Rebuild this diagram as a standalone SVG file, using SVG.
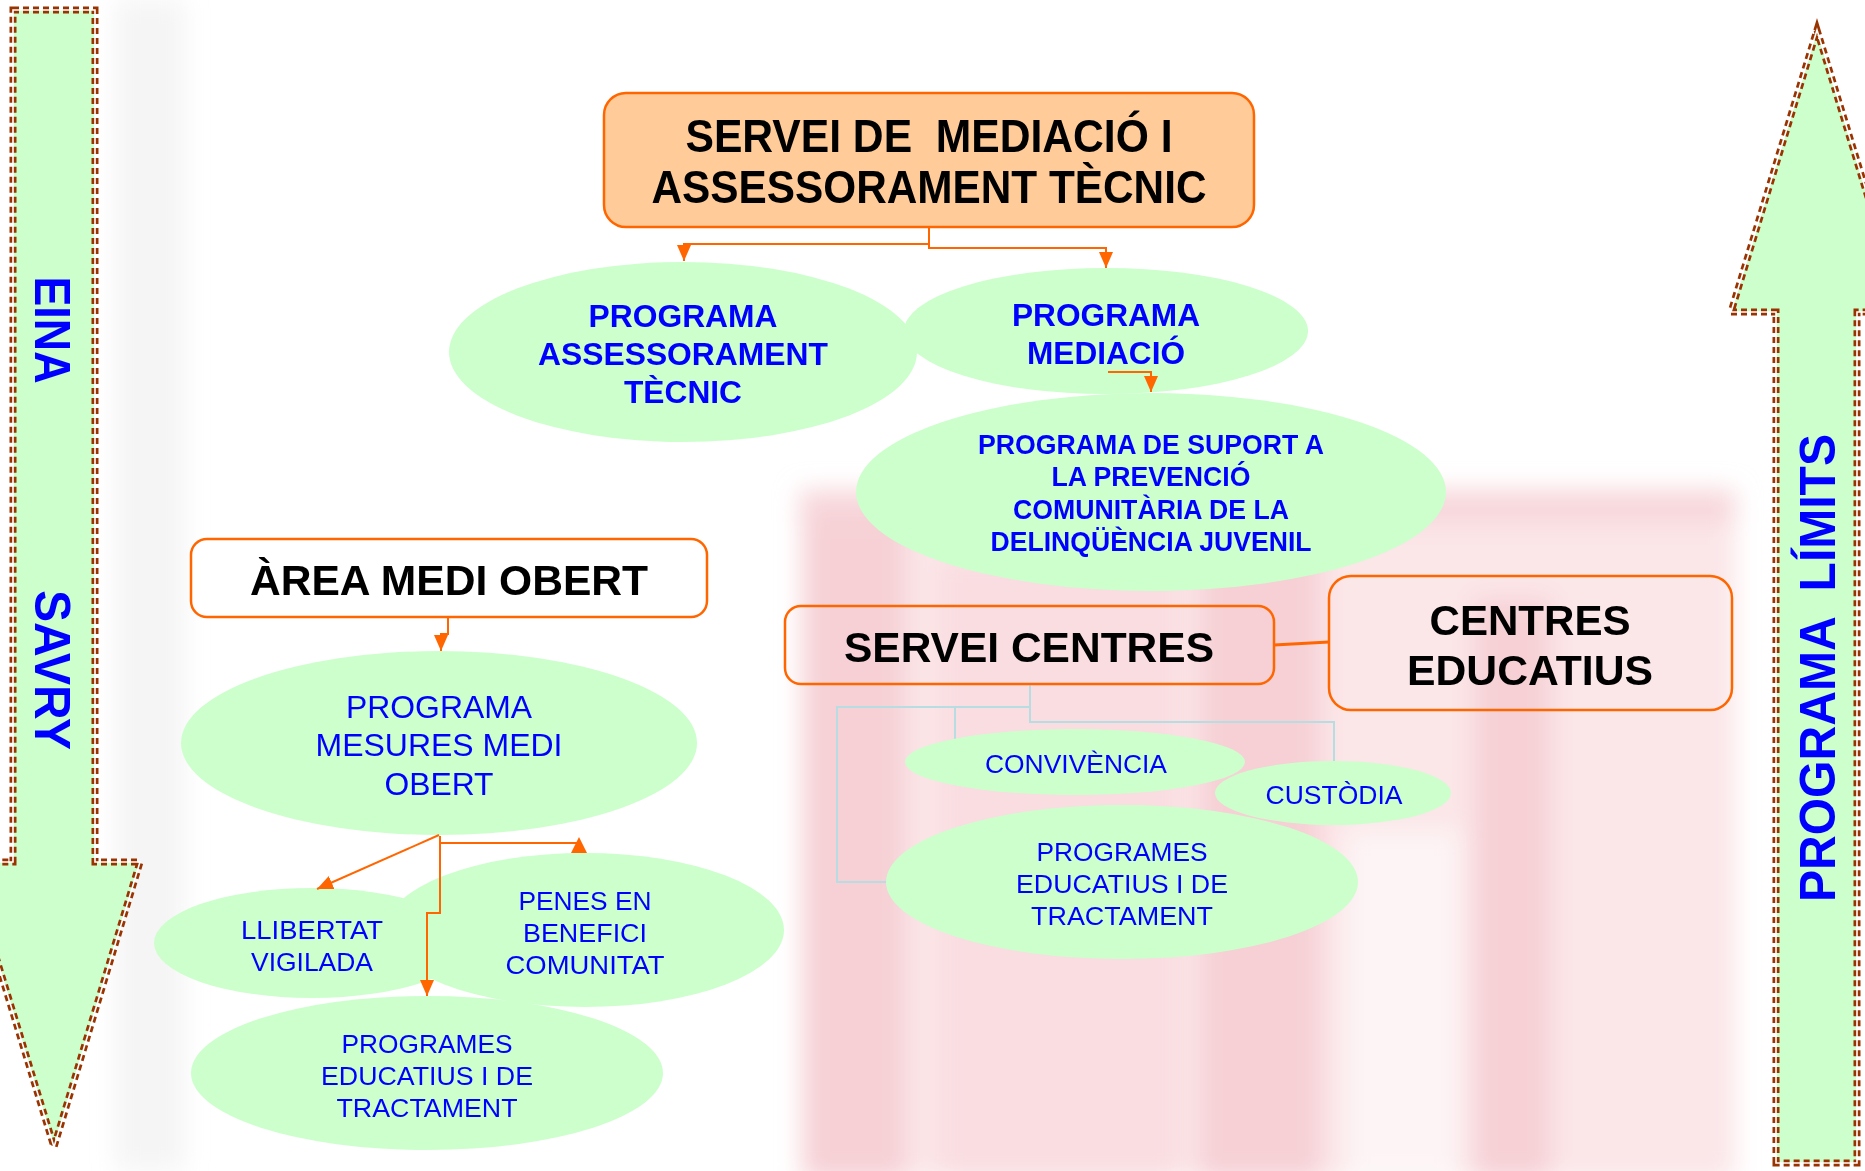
<svg xmlns="http://www.w3.org/2000/svg" width="1865" height="1171" viewBox="0 0 1865 1171">
<defs>
<style>
.bg{fill:#ffffff}
.box{stroke:#FF6600;stroke-width:2.5}
.ell{fill:#CCFFCC}
.oc{fill:none;stroke:#FF6600;stroke-width:2}
.bc{fill:none;stroke:#B7DDE3;stroke-width:2}
.big{fill:#CCFFCC;stroke:#993300;stroke-width:7;stroke-dasharray:6 4}
.bigw{fill:none;stroke:#ffffff;stroke-width:1.6}
text{font-family:"Liberation Sans",Arial,sans-serif;text-anchor:middle}
.k{fill:#000000;font-weight:bold}
.bb{fill:#0000FF;font-weight:bold}
.br{fill:#0000FF;font-weight:normal}
</style>
<filter id="blur" x="-20%" y="-20%" width="140%" height="140%"><feGaussianBlur stdDeviation="12"/></filter>
<marker id="arr" viewBox="0 0 10 10" refX="10" refY="5" markerWidth="16" markerHeight="14" markerUnits="userSpaceOnUse" orient="auto" preserveAspectRatio="none"><path d="M0,0 L10,5 L0,10 z" fill="#FF6600"/></marker>
</defs>

<rect class="bg" x="0" y="0" width="1865" height="1171"/>

<g id="background" filter="url(#blur)">
<rect x="115" y="0" width="70" height="1171" fill="#EFEFEF" opacity="0.6"/>
<rect x="800" y="490" width="935" height="690" fill="#FBE3E6" opacity="0.9"/>
<rect x="800" y="490" width="935" height="32" fill="#F7D6DA"/>
<rect x="805" y="520" width="100" height="660" fill="#F6D0D5"/>
<rect x="1200" y="520" width="120" height="660" fill="#F6D0D5"/>
<rect x="1475" y="600" width="75" height="580" fill="#F6D0D5"/>
<rect x="1345" y="830" width="115" height="350" fill="#FDF4F5"/>
<rect x="940" y="560" width="240" height="620" fill="#F9DDE1"/>
</g>

<g id="arrow-eina">
<polygon class="big" points="13,10 95,10 95,862 140,862 54,1147 -33,862 13,862"/>
<polygon class="bigw" points="13,10 95,10 95,862 140,862 54,1147 -33,862 13,862"/>
<text class="bb" x="0" y="0" font-size="50" transform="translate(35,330) rotate(90)" textLength="107" lengthAdjust="spacingAndGlyphs">EINA</text>
<text class="bb" x="0" y="0" font-size="50" transform="translate(35,670) rotate(90)" textLength="160" lengthAdjust="spacingAndGlyphs">SAVRY</text>
</g>

<g id="arrow-limits">
<polygon class="big" points="1776,1163 1776,312 1731,312 1817,30 1903,312 1857,312 1857,1163"/>
<polygon class="bigw" points="1776,1163 1776,312 1731,312 1817,30 1903,312 1857,312 1857,1163"/>
<text class="bb" x="0" y="0" font-size="50" transform="translate(1835,668) rotate(-90)" textLength="468" lengthAdjust="spacingAndGlyphs" xml:space="preserve">PROGRAMA  LÍMITS</text>
</g>

<g id="connectors-under">
<path class="bc" d="M1030,684 V722 H1334 V762"/>
<path class="bc" d="M1030,707 H837 V882 H888"/>
<path class="bc" d="M955,707 V740"/>
<path class="oc" d="M1274,645 L1329,642" style="stroke-width:3"/>
</g>

<g id="n-servei-mediacio">
<rect class="box" x="604" y="93" width="650" height="134" rx="22" fill="#FFCC99"/>
<text class="k" x="929" y="152" font-size="46" textLength="487" lengthAdjust="spacingAndGlyphs" xml:space="preserve">SERVEI DE  MEDIACIÓ I</text>
<text class="k" x="929" y="203" font-size="46" textLength="555" lengthAdjust="spacingAndGlyphs">ASSESSORAMENT TÈCNIC</text>
</g>

<g id="n-prog-assessorament">
<ellipse class="ell" cx="683" cy="352" rx="234" ry="90"/>
<text class="bb" x="683" y="327" font-size="32" textLength="189" lengthAdjust="spacingAndGlyphs">PROGRAMA</text>
<text class="bb" x="683" y="365" font-size="32" textLength="290" lengthAdjust="spacingAndGlyphs">ASSESSORAMENT</text>
<text class="bb" x="683" y="403" font-size="32" textLength="118" lengthAdjust="spacingAndGlyphs">TÈCNIC</text>
</g>

<g id="n-prog-mediacio">
<ellipse class="ell" cx="1106" cy="331" rx="202" ry="63"/>
<text class="bb" x="1106" y="326" font-size="32" textLength="188" lengthAdjust="spacingAndGlyphs">PROGRAMA</text>
<text class="bb" x="1106" y="364" font-size="32" textLength="158" lengthAdjust="spacingAndGlyphs">MEDIACIÓ</text>
</g>

<g id="n-prog-suport">
<ellipse class="ell" cx="1151" cy="492" rx="295" ry="99"/>
<text class="bb" x="1151" y="454" font-size="27" textLength="346" lengthAdjust="spacingAndGlyphs">PROGRAMA DE SUPORT A</text>
<text class="bb" x="1151" y="486" font-size="27" textLength="199" lengthAdjust="spacingAndGlyphs">LA PREVENCIÓ</text>
<text class="bb" x="1151" y="519" font-size="27" textLength="276" lengthAdjust="spacingAndGlyphs">COMUNITÀRIA DE LA</text>
<text class="bb" x="1151" y="551" font-size="27" textLength="321" lengthAdjust="spacingAndGlyphs">DELINQÜÈNCIA JUVENIL</text>
</g>

<g id="n-area-medi-obert">
<rect class="box" x="191" y="539" width="516" height="78" rx="16" fill="#ffffff"/>
<text class="k" x="449" y="595" font-size="42" textLength="398" lengthAdjust="spacingAndGlyphs">ÀREA MEDI OBERT</text>
</g>

<g id="n-prog-mesures">
<ellipse class="ell" cx="439" cy="743" rx="258" ry="92"/>
<text class="br" x="439" y="718" font-size="32" textLength="186" lengthAdjust="spacingAndGlyphs">PROGRAMA</text>
<text class="br" x="439" y="756" font-size="32" textLength="247" lengthAdjust="spacingAndGlyphs">MESURES MEDI</text>
<text class="br" x="439" y="795" font-size="32" textLength="109" lengthAdjust="spacingAndGlyphs">OBERT</text>
</g>

<g id="n-llibertat">
<ellipse class="ell" cx="312" cy="943" rx="158" ry="55"/>
<text class="br" x="312" y="939" font-size="26" textLength="142" lengthAdjust="spacingAndGlyphs">LLIBERTAT</text>
<text class="br" x="312" y="971" font-size="26" textLength="122" lengthAdjust="spacingAndGlyphs">VIGILADA</text>
</g>

<g id="n-penes">
<ellipse class="ell" cx="585" cy="930" rx="199" ry="77"/>
<text class="br" x="585" y="910" font-size="26" textLength="133" lengthAdjust="spacingAndGlyphs">PENES EN</text>
<text class="br" x="585" y="942" font-size="26" textLength="124" lengthAdjust="spacingAndGlyphs">BENEFICI</text>
<text class="br" x="585" y="974" font-size="26" textLength="159" lengthAdjust="spacingAndGlyphs">COMUNITAT</text>
</g>

<g id="n-programes-mo">
<ellipse class="ell" cx="427" cy="1073" rx="236" ry="77"/>
<text class="br" x="427" y="1053" font-size="26" textLength="171" lengthAdjust="spacingAndGlyphs">PROGRAMES</text>
<text class="br" x="427" y="1085" font-size="26" textLength="212" lengthAdjust="spacingAndGlyphs">EDUCATIUS I DE</text>
<text class="br" x="427" y="1117" font-size="26" textLength="181" lengthAdjust="spacingAndGlyphs">TRACTAMENT</text>
</g>

<g id="n-servei-centres">
<rect class="box" x="785" y="606" width="489" height="78" rx="16" fill="none"/>
<text class="k" x="1029" y="662" font-size="42" textLength="370" lengthAdjust="spacingAndGlyphs">SERVEI CENTRES</text>
</g>

<g id="n-centres-educatius">
<rect class="box" x="1329" y="576" width="403" height="134" rx="22" fill="none"/>
<text class="k" x="1530" y="635" font-size="42" textLength="201" lengthAdjust="spacingAndGlyphs">CENTRES</text>
<text class="k" x="1530" y="685" font-size="42" textLength="246" lengthAdjust="spacingAndGlyphs">EDUCATIUS</text>
</g>

<g id="n-convivencia">
<ellipse class="ell" cx="1075" cy="762" rx="170" ry="33"/>
<text class="br" x="1076" y="773" font-size="26" textLength="182" lengthAdjust="spacingAndGlyphs">CONVIVÈNCIA</text>
</g>

<g id="n-custodia">
<ellipse class="ell" cx="1333" cy="793" rx="118" ry="32"/>
<text class="br" x="1334" y="804" font-size="26" textLength="137" lengthAdjust="spacingAndGlyphs">CUSTÒDIA</text>
</g>

<g id="n-programes-centres">
<ellipse class="ell" cx="1122" cy="882" rx="236" ry="77"/>
<text class="br" x="1122" y="861" font-size="26" textLength="171" lengthAdjust="spacingAndGlyphs">PROGRAMES</text>
<text class="br" x="1122" y="893" font-size="26" textLength="212" lengthAdjust="spacingAndGlyphs">EDUCATIUS I DE</text>
<text class="br" x="1122" y="925" font-size="26" textLength="182" lengthAdjust="spacingAndGlyphs">TRACTAMENT</text>
</g>

<g id="connectors">
<path class="oc" d="M929,227 V244 H684 V261" marker-end="url(#arr)"/>
<path class="oc" d="M929,227 V248 H1106 V268" marker-end="url(#arr)"/>
<path class="oc" d="M1108,372 H1151 V392" marker-end="url(#arr)"/>
<path class="oc" d="M448,617 V634 H441 V651" marker-end="url(#arr)"/>
<path class="oc" d="M439,835 L317,889" marker-end="url(#arr)"/>
<path class="oc" d="M440,836 V843 H579"/>
<polygon points="579,837 587,853 571,853" fill="#FF6600"/>
<path class="oc" d="M440,836 V913 H427 V996" marker-end="url(#arr)"/>
</g>
</svg>
